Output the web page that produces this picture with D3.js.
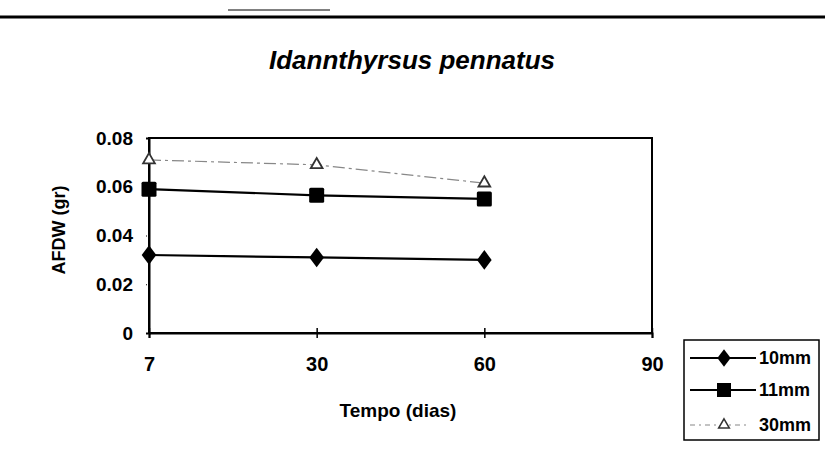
<!DOCTYPE html>
<html>
<head>
<meta charset="utf-8">
<script src="https://cdn.jsdelivr.net/npm/d3@7"></script>
<style>
  body { margin: 0; background: #fff; }
  text { font-family: "Liberation Sans", Arial, sans-serif; }
</style>
</head>
<body>
<div id="chart"></div>
<script>
// data
var days = ["7", "30", "60", "90"];
var series10 = [0.032, 0.031, 0.030];
var series11 = [0.059, 0.0565, 0.055];
var series30 = [0.071, 0.069, 0.0615];
var yTicks = [0, 0.02, 0.04, 0.06, 0.08];
var legendNames = ["10mm", "11mm", "30mm"];

var W = 825, H = 464;
var margin = {top: 138, right: 173, bottom: 131, left: 149},
    width = W - margin.left - margin.right,
    height = H - margin.top - margin.bottom;

var root = d3.select("#chart").append("svg")
    .attr("width", W)
    .attr("height", H);

// scanned page top rule
root.append("line")
  .attr("x1", 0).attr("x2", W).attr("y1", 17).attr("y2", 17)
  .attr("stroke", "#000").attr("stroke-width", 3);
root.append("line")
  .attr("x1", 228).attr("x2", 330).attr("y1", 10).attr("y2", 10)
  .attr("stroke", "#000").attr("stroke-width", 1);

// title
root.append("text")
  .attr("x", 412).attr("y", 69)
  .attr("text-anchor", "middle")
  .style("font-size", "26px")
  .style("font-weight", "bold")
  .style("font-style", "italic")
  .text("Idannthyrsus pennatus");

var svg = root.append("g")
  .attr("transform", "translate(" + margin.left + "," + margin.top + ")");

var x = d3.scalePoint().domain(days).range([0, width]);
var y = d3.scaleLinear().domain([0, 0.08]).range([height, 0]);

// plot frame
svg.append("rect")
  .attr("width", width).attr("height", height)
  .attr("fill", "none").attr("stroke", "#000").attr("stroke-width", 2);

// x axis
var xAxis = svg.append("g")
  .attr("transform", "translate(0," + height + ")")
  .call(d3.axisBottom(x).tickSize(5));
xAxis.select(".domain").attr("stroke-width", 2);
xAxis.selectAll(".tick line").attr("y1", -5).attr("y2", 5).attr("stroke-width", 1.5);
xAxis.selectAll("text")
  .style("font-size", "20px").style("font-weight", "bold")
  .attr("dy", "0.71em").attr("y", 24);

// y axis
var yAxis = svg.append("g")
  .call(d3.axisLeft(y).tickValues(yTicks).tickSize(3).tickPadding(13)
    .tickFormat(function(d) { return d === 0 ? "0" : d3.format(".2f")(d); }));
yAxis.select(".domain").attr("stroke-width", 2);
yAxis.selectAll(".tick line").attr("stroke-dasharray", "1,1");
yAxis.selectAll("text").style("font-size", "19px").style("font-weight", "bold");

// axis titles
svg.append("text")
  .attr("x", 249).attr("y", height + 84)
  .attr("text-anchor", "middle")
  .style("font-size", "19px").style("font-weight", "bold")
  .text("Tempo (dias)");
svg.append("text")
  .attr("transform", "translate(-84,92) rotate(-90)")
  .attr("text-anchor", "middle")
  .style("font-size", "18px").style("font-weight", "bold")
  .text("AFDW (gr)");

var line = d3.line()
  .x(function(d, i) { return x(days[i]); })
  .y(function(d) { return y(d); });

// 30mm dashed grey
svg.append("path").datum(series30)
  .attr("d", line).attr("fill", "none")
  .attr("stroke", "#888").attr("stroke-width", 1.2)
  .attr("stroke-dasharray", "12,4,3,4");
svg.selectAll(".tri").data(series30).enter().append("path")
  .attr("d", d3.symbol().type(d3.symbolTriangle).size(60))
  .attr("transform", function(d, i) { return "translate(" + x(days[i]) + "," + y(d) + ")"; })
  .attr("fill", "#fff").attr("stroke", "#333").attr("stroke-width", 1.8);

// 11mm squares
svg.append("path").datum(series11)
  .attr("d", line).attr("fill", "none")
  .attr("stroke", "#000").attr("stroke-width", 2.2);
svg.selectAll(".sq").data(series11).enter().append("rect")
  .attr("x", function(d, i) { return x(days[i]) - 7.5; })
  .attr("y", function(d) { return y(d) - 7.5; })
  .attr("width", 15).attr("height", 15).attr("rx", 1.5)
  .attr("fill", "#000");

// 10mm diamonds
svg.append("path").datum(series10)
  .attr("d", line).attr("fill", "none")
  .attr("stroke", "#000").attr("stroke-width", 2.2);
svg.selectAll(".dia").data(series10).enter().append("path")
  .attr("d", d3.symbol().type(d3.symbolDiamond).size(110))
  .attr("transform", function(d, i) { return "translate(" + x(days[i]) + "," + y(d) + ") scale(1.3,1)"; })
  .attr("fill", "#000");

// legend
var lg = root.append("g").attr("transform", "translate(684,340)");
lg.append("rect").attr("width", 135).attr("height", 100)
  .attr("fill", "#fff").attr("stroke", "#000").attr("stroke-width", 1.5);
var rowY = [18, 50, 85];
legendNames.forEach(function(name, i) {
  var g = lg.append("g").attr("transform", "translate(0," + rowY[i] + ")");
  if (i < 2) {
    g.append("line").attr("x1", 6).attr("x2", 72).attr("stroke", "#000").attr("stroke-width", 2.2);
  } else {
    g.append("line").attr("x1", 6).attr("x2", 66).attr("stroke", "#888")
      .attr("stroke-width", 1.2).attr("stroke-dasharray", "5,4,2,4");
  }
  if (i === 0) {
    g.append("path").attr("d", d3.symbol().type(d3.symbolDiamond).size(90))
      .attr("transform", "translate(40,0) scale(1.3,1)").attr("fill", "#000");
  } else if (i === 1) {
    g.append("rect").attr("x", 33).attr("y", -7).attr("width", 14).attr("height", 14).attr("fill", "#000");
  } else {
    g.append("path").attr("d", d3.symbol().type(d3.symbolTriangle).size(50))
      .attr("transform", "translate(40,0)")
      .attr("fill", "#fff").attr("stroke", "#333").attr("stroke-width", 1.5);
  }
  g.append("text").attr("x", 75).attr("dy", "0.36em")
    .style("font-size", "18px").style("font-weight", "bold")
    .text(name);
});
</script>
</body>
</html>
